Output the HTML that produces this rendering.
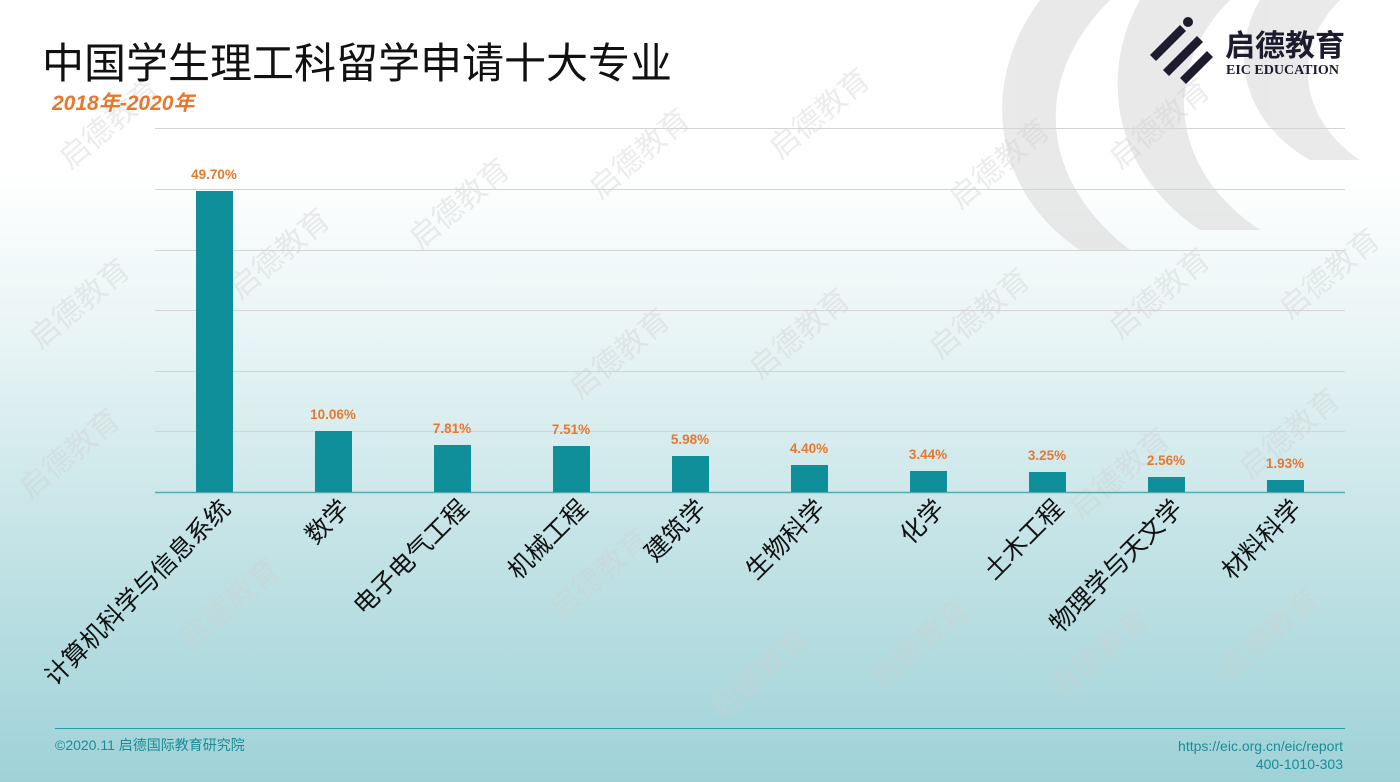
<!DOCTYPE html>
<html><head><meta charset="utf-8"><style>
body{margin:0}
#c{position:relative;width:1400px;height:782px;overflow:hidden;background:linear-gradient(180deg,#ffffff 0%,#ffffff 22%,#e6f3f4 45%,#c3e3e6 70%,#9fd2d8 100%);font-family:"Liberation Sans","Noto Sans CJK SC",sans-serif}
</style></head><body><div id="c">
<svg width="1400" height="782" style="position:absolute;left:0;top:0">
<g fill="#d8d8d8" opacity="0.55">
<path d="M1040 0 L1110 0 C1030 80 1040 180 1130 250 L1080 250 C990 190 980 80 1040 0Z"/>
<path d="M1140 0 L1230 0 C1160 70 1170 170 1260 230 L1200 230 C1110 170 1100 70 1140 0Z"/>
<path d="M1260 0 L1340 0 C1290 50 1300 120 1360 160 L1310 160 C1240 120 1230 50 1260 0Z"/>
</g>
<g fill="#cfcfcf" opacity="0.4" font-size="30" font-family="Noto Sans CJK SC,sans-serif">
<text transform="translate(70,170) rotate(-40)">启德教育</text>
<text transform="translate(240,300) rotate(-40)">启德教育</text>
<text transform="translate(420,250) rotate(-40)">启德教育</text>
<text transform="translate(600,200) rotate(-40)">启德教育</text>
<text transform="translate(780,160) rotate(-40)">启德教育</text>
<text transform="translate(960,210) rotate(-40)">启德教育</text>
<text transform="translate(1120,170) rotate(-40)">启德教育</text>
<text transform="translate(40,350) rotate(-40)">启德教育</text>
<text transform="translate(580,400) rotate(-40)">启德教育</text>
<text transform="translate(760,380) rotate(-40)">启德教育</text>
<text transform="translate(940,360) rotate(-40)">启德教育</text>
<text transform="translate(1120,340) rotate(-40)">启德教育</text>
<text transform="translate(1290,320) rotate(-40)">启德教育</text>
<text transform="translate(30,500) rotate(-40)">启德教育</text>
<text transform="translate(1080,520) rotate(-40)">启德教育</text>
<text transform="translate(1250,480) rotate(-40)">启德教育</text>
<text transform="translate(560,620) rotate(-40)">启德教育</text>
<text transform="translate(720,720) rotate(-40)">启德教育</text>
<text transform="translate(880,690) rotate(-40)">启德教育</text>
<text transform="translate(1060,700) rotate(-40)">启德教育</text>
<text transform="translate(1230,680) rotate(-40)">启德教育</text>
<text transform="translate(190,650) rotate(-40)">启德教育</text>
</g>
<g stroke="#d4d4d4" stroke-width="1">
<line x1="155" x2="1345" y1="128.5" y2="128.5"/>
<line x1="155" x2="1345" y1="189.5" y2="189.5"/>
<line x1="155" x2="1345" y1="250.5" y2="250.5"/>
<line x1="155" x2="1345" y1="310.5" y2="310.5"/>
<line x1="155" x2="1345" y1="371.5" y2="371.5"/>
<line x1="155" x2="1345" y1="431.5" y2="431.5"/>
</g>
<line x1="155" x2="1345" y1="492.5" y2="492.5" stroke="#5aa7b0" stroke-width="1.5"/>
<g fill="#0e8f99">
<rect x="196" y="191" width="37" height="301"/>
<rect x="315" y="431" width="37" height="61"/>
<rect x="434" y="445" width="37" height="47"/>
<rect x="553" y="446" width="37" height="46"/>
<rect x="672" y="456" width="37" height="36"/>
<rect x="791" y="465" width="37" height="27"/>
<rect x="910" y="471" width="37" height="21"/>
<rect x="1029" y="472" width="37" height="20"/>
<rect x="1148" y="477" width="37" height="15"/>
<rect x="1267" y="480" width="37" height="12"/>
</g>
<g fill="#e8772e" font-size="13.5" font-weight="bold" text-anchor="middle" font-family="Liberation Sans,sans-serif">
<text x="214" y="179">49.70%</text>
<text x="333" y="419">10.06%</text>
<text x="452" y="433">7.81%</text>
<text x="571" y="434">7.51%</text>
<text x="690" y="444">5.98%</text>
<text x="809" y="453">4.40%</text>
<text x="928" y="459">3.44%</text>
<text x="1047" y="460">3.25%</text>
<text x="1166" y="465">2.56%</text>
<text x="1285" y="468">1.93%</text>
</g>
<g fill="#111" font-size="25" text-anchor="end" font-family="Noto Sans CJK SC,sans-serif">
<text transform="translate(232,510) rotate(-45)">计算机科学与信息系统</text>
<text transform="translate(351,510) rotate(-45)">数学</text>
<text transform="translate(470,510) rotate(-45)">电子电气工程</text>
<text transform="translate(589,510) rotate(-45)">机械工程</text>
<text transform="translate(708,510) rotate(-45)">建筑学</text>
<text transform="translate(827,510) rotate(-45)">生物科学</text>
<text transform="translate(946,510) rotate(-45)">化学</text>
<text transform="translate(1065,510) rotate(-45)">土木工程</text>
<text transform="translate(1184,510) rotate(-45)">物理学与天文学</text>
<text transform="translate(1303,510) rotate(-45)">材料科学</text>
</g>
<line x1="55" x2="1345" y1="728.5" y2="728.5" stroke="#2a9aa5" stroke-width="1"/>
<text x="55" y="750" fill="#1b8b96" font-size="14" font-family="Liberation Sans,Noto Sans CJK SC,sans-serif">©2020.11 启德国际教育研究院</text>
<text x="1343" y="751" fill="#1b8b96" font-size="14" text-anchor="end" font-family="Liberation Sans,sans-serif">https://eic.org.cn/eic/report</text>
<text x="1343" y="769" fill="#1b8b96" font-size="14" text-anchor="end" font-family="Liberation Sans,sans-serif">400-1010-303</text>
<text x="42" y="78" fill="#111" font-size="42" font-family="Noto Sans CJK SC,sans-serif">中国学生理工科留学申请十大专业</text>
<text x="52" y="110" fill="#e8772e" font-size="21" font-weight="bold" font-style="italic" font-family="Liberation Sans,Noto Sans CJK SC,sans-serif">2018年-2020年</text>
<g fill="#1c1c2e">
<path d="M1150 55 L1180 25 L1186 31 L1156 61Z"/>
<path d="M1163 70 L1197 36 L1203 42 L1169 76Z"/>
<path d="M1180 78 L1207 51 L1213 57 L1186 84 Z"/>
<circle cx="1188" cy="22" r="5"/>
</g>
<text x="1225" y="56" fill="#1c1c2e" font-size="30" font-weight="bold" font-family="Noto Sans CJK SC,sans-serif">启德教育</text>
<text x="1226" y="74" fill="#1c1c2e" font-size="14" font-weight="bold" font-family="Liberation Serif,serif">EIC EDUCATION</text>
</svg>
</div></body></html>
